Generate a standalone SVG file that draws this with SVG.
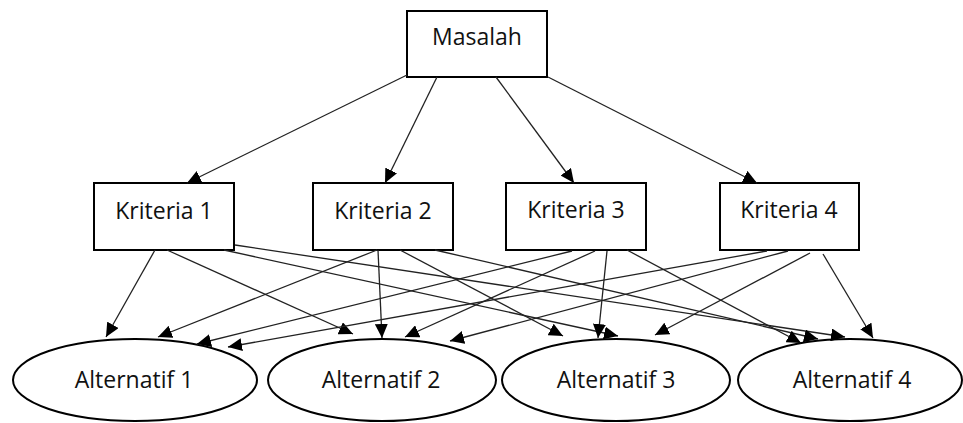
<svg xmlns="http://www.w3.org/2000/svg" width="963" height="423" viewBox="0 0 963 423">
<style>
.box{fill:#fff;stroke:#000;stroke-width:2}
.ell{fill:#fff;stroke:#000;stroke-width:2}
.lbl{font-family:"Open Sans","Liberation Sans",sans-serif;font-size:23px;fill:#111;text-anchor:middle}
.con line{stroke:#222;stroke-width:1.3;marker-end:url(#ah)}
</style>
<defs>
<marker id="ah" markerUnits="userSpaceOnUse" markerWidth="15" markerHeight="13" viewBox="0 0 15 13" refX="14" refY="6.5" orient="auto">
<path d="M0,0 L14,6.5 L0,13 z" fill="#000"/>
</marker>
</defs>
<rect width="963" height="423" fill="#fff"/>
<g id="masalah"><rect class="box" x="407" y="11" width="140" height="66"/><text class="lbl" x="477" y="45">Masalah</text></g>
<g id="kriteria1"><rect class="box" x="94" y="183" width="140" height="67"/><text class="lbl" x="164" y="219">Kriteria 1</text></g>
<g id="kriteria2"><rect class="box" x="313" y="183" width="140" height="67"/><text class="lbl" x="383" y="219">Kriteria 2</text></g>
<g id="kriteria3"><rect class="box" x="506" y="183" width="140" height="67"/><text class="lbl" x="576" y="218">Kriteria 3</text></g>
<g id="kriteria4"><rect class="box" x="720" y="183" width="139" height="67"/><text class="lbl" x="789" y="218">Kriteria 4</text></g>
<g id="alternatif1"><ellipse class="ell" cx="135" cy="380" rx="122" ry="41"/><text class="lbl" x="134" y="388">Alternatif 1</text></g>
<g id="alternatif2"><ellipse class="ell" cx="382" cy="380" rx="114" ry="41"/><text class="lbl" x="381" y="388">Alternatif 2</text></g>
<g id="alternatif3"><ellipse class="ell" cx="616" cy="380" rx="114" ry="41"/><text class="lbl" x="616" y="388">Alternatif 3</text></g>
<g id="alternatif4"><ellipse class="ell" cx="850" cy="380" rx="112" ry="41"/><text class="lbl" x="852" y="388">Alternatif 4</text></g>
<g id="connectors" class="con">
<line x1="407" y1="75" x2="187" y2="183"/>
<line x1="437" y1="77" x2="385" y2="183"/>
<line x1="496" y1="77" x2="574" y2="183"/>
<line x1="548" y1="77" x2="757" y2="183"/>
<line x1="155" y1="250" x2="106" y2="337"/>
<line x1="167" y1="250" x2="353" y2="334"/>
<line x1="224" y1="250" x2="618" y2="336"/>
<line x1="235" y1="245" x2="845" y2="337"/>
<line x1="377" y1="250" x2="158" y2="337"/>
<line x1="378" y1="250" x2="382" y2="338"/>
<line x1="400" y1="250" x2="563" y2="336"/>
<line x1="435" y1="250" x2="818" y2="339"/>
<line x1="572" y1="251" x2="197" y2="344"/>
<line x1="595" y1="251" x2="405" y2="337"/>
<line x1="607" y1="251" x2="598" y2="338"/>
<line x1="627" y1="250" x2="801" y2="343"/>
<line x1="767" y1="251" x2="228" y2="347"/>
<line x1="788" y1="251" x2="450" y2="341"/>
<line x1="810" y1="253" x2="655" y2="335"/>
<line x1="823" y1="254" x2="873" y2="338"/>
</g>
</svg>
